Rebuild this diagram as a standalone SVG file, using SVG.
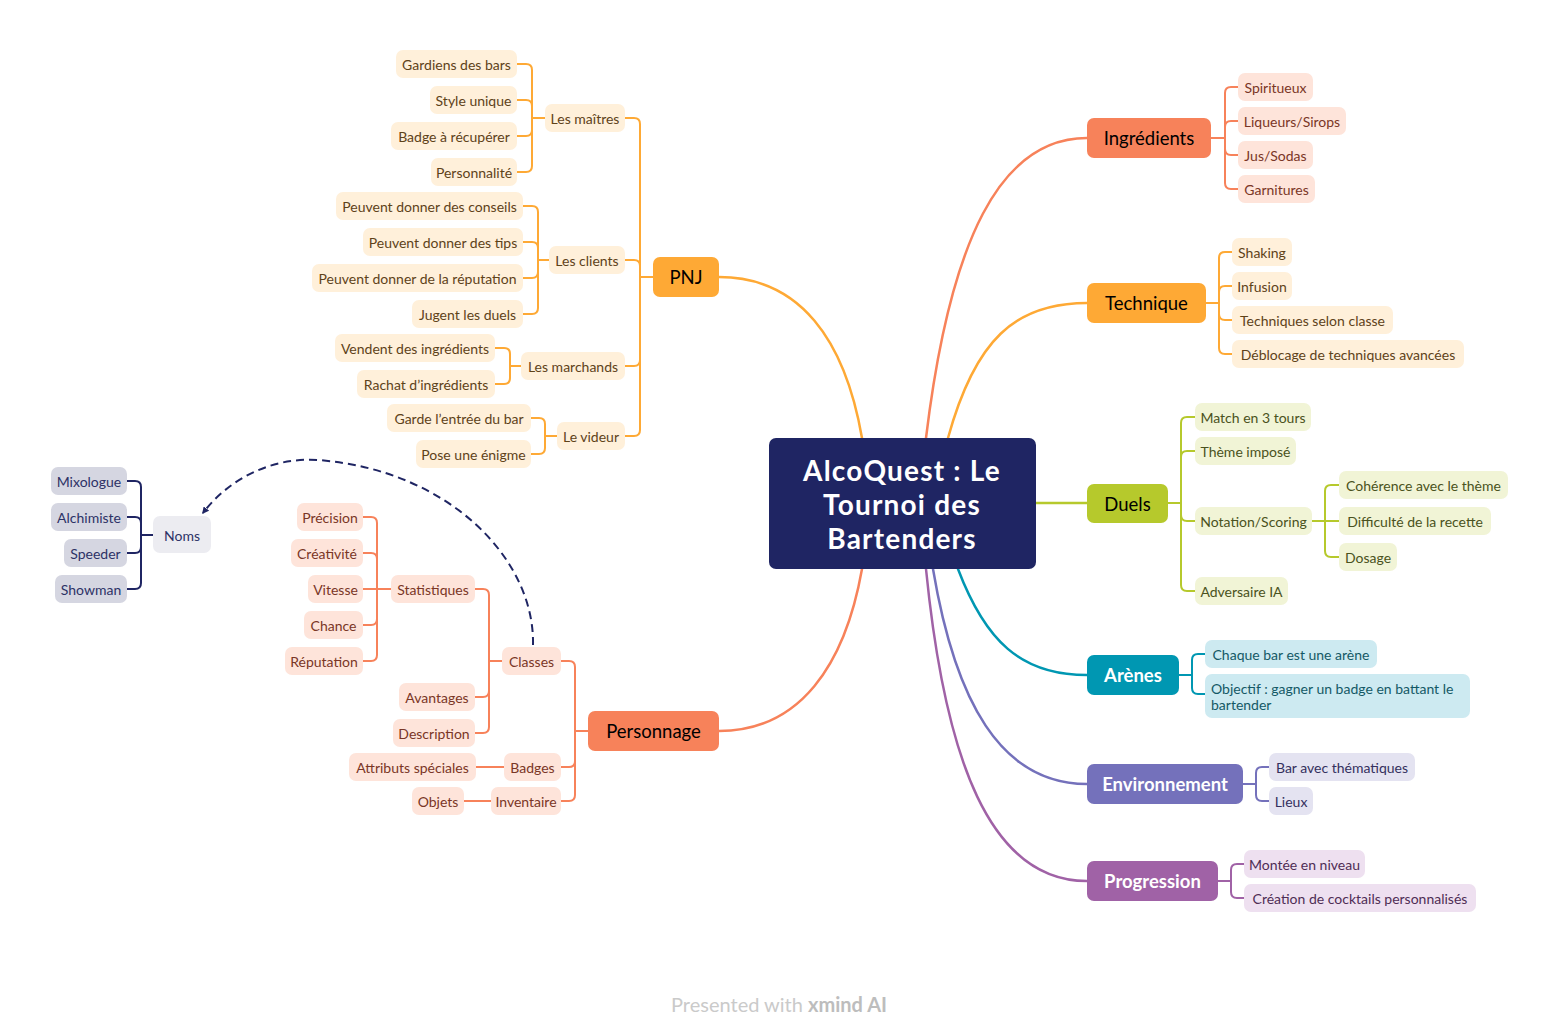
<svg xmlns="http://www.w3.org/2000/svg" width="1559" height="1032" viewBox="0 0 1559 1032">
<defs>
<style>
text{font-family:Lato,"Noto Sans","Liberation Sans",sans-serif;dominant-baseline:central;text-anchor:middle}
.s{font-size:14px}
.b{font-size:18.5px}
.bw{font-size:18.5px;font-weight:700;fill:#fff}
.cen{font-size:28px;font-weight:700;fill:#fff;letter-spacing:1.2px}
.ro rect{fill:#fff0da}.ro text{fill:#5e4219}
.rc rect{fill:#fee4da}.rc text{fill:#7a3626}
.rg rect{fill:#f1f4d6}.rg text{fill:#4a5220}
.rt rect{fill:#cdeaf1}.rt text{fill:#145966}
.rp rect{fill:#e4e3f1}.rp text{fill:#34305e}
.rm rect{fill:#eee0f0}.rm text{fill:#4e2d55}
.rn rect{fill:#d5d6e1}.rn text{fill:#2d3266}
.ln{fill:none;stroke-width:2;stroke-linecap:round}
.lm{fill:none;stroke-width:2.5;stroke-linecap:round}
.co{stroke:#fea935}.cc{stroke:#f7825a}.cg{stroke:#b6c92c}.ct{stroke:#0097b2}.cp{stroke:#7471bb}.cm{stroke:#a062a6}.cn{stroke:#1f2563}
</style>
<marker id="arr" viewBox="0 0 10 10" refX="8" refY="5" markerWidth="7" markerHeight="7" orient="auto-start-reverse" markerUnits="userSpaceOnUse">
<path d="M0,0 L10,5 L0,10 z" fill="#1f2563"/>
</marker>
</defs>
<rect width="1559" height="1032" fill="#fff"/>
<g id="connectors">
<path class="lm co" d="M862,438 C845,340 800,277 719,277"/>
<path class="lm cc" d="M862,569 C845,665 800,731 719,731"/>
<path class="lm cc" d="M926,438 C950,240 1000,138 1087,138"/>
<path class="lm co" d="M948,438 C975,340 1015,303 1087,303"/>
<path class="lm cg" d="M1036,503 H1087"/>
<path class="lm ct" d="M958,569 C985,640 1020,675 1087,675"/>
<path class="lm cp" d="M933,569 C955,700 1000,784 1087,784"/>
<path class="lm cm" d="M926,569 C945,760 990,881 1087,881"/>
<g class="ln co">
<path d="M653,277 H640 V124 Q640,118 634,118 H625"/>
<path d="M653,277 H640 V266 Q640,260 634,260 H625"/>
<path d="M653,277 H640 V360 Q640,366 634,366 H625"/>
<path d="M653,277 H640 V430 Q640,436 634,436 H625"/>
<path d="M545,118 H532 V70 Q532,64 526,64 H517"/>
<path d="M545,118 H532 V106 Q532,100 526,100 H517"/>
<path d="M545,118 H532 V130 Q532,136 526,136 H517"/>
<path d="M545,118 H532 V166 Q532,172 526,172 H517"/>
<path d="M549,260 H538 V212 Q538,206 532,206 H523"/>
<path d="M549,260 H538 V248 Q538,242 532,242 H523"/>
<path d="M549,260 H538 V272 Q538,278 532,278 H523"/>
<path d="M549,260 H538 V308 Q538,314 532,314 H523"/>
<path d="M521,366 H510 V354 Q510,348 504,348 H495"/>
<path d="M521,366 H510 V378 Q510,384 504,384 H495"/>
<path d="M557,436 H545 V424 Q545,418 539,418 H531"/>
<path d="M557,436 H545 V448 Q545,454 539,454 H531"/>
<path d="M1206,303 H1219 V258 Q1219,252 1225,252 H1232"/>
<path d="M1206,303 H1219 V292 Q1219,286 1225,286 H1232"/>
<path d="M1206,303 H1219 V314 Q1219,320 1225,320 H1232"/>
<path d="M1206,303 H1219 V348 Q1219,354 1225,354 H1232"/>
</g>
<g class="ln cc">
<path d="M588,731 H575 V667 Q575,661 569,661 H561"/>
<path d="M588,731 H575 V761 Q575,767 569,767 H561"/>
<path d="M588,731 H575 V795 Q575,801 569,801 H561"/>
<path d="M502,661 H489 V595 Q489,589 483,589 H475"/>
<path d="M502,661 H489 V691 Q489,697 483,697 H475"/>
<path d="M502,661 H489 V727 Q489,733 483,733 H475"/>
<path d="M391,589 H377 V523 Q377,517 371,517 H363"/>
<path d="M391,589 H377 V559 Q377,553 371,553 H363"/>
<path d="M391,589 H363"/>
<path d="M391,589 H377 V619 Q377,625 371,625 H363"/>
<path d="M391,589 H377 V655 Q377,661 371,661 H363"/>
<path d="M504,767 H476"/>
<path d="M491,801 H464"/>
<path d="M1211,138 H1225 V93 Q1225,87 1231,87 H1238"/>
<path d="M1211,138 H1225 V127 Q1225,121 1231,121 H1238"/>
<path d="M1211,138 H1225 V149 Q1225,155 1231,155 H1238"/>
<path d="M1211,138 H1225 V183 Q1225,189 1231,189 H1238"/>
</g>
<g class="ln cg">
<path d="M1168,503 H1181 V423 Q1181,417 1187,417 H1195"/>
<path d="M1168,503 H1181 V457 Q1181,451 1187,451 H1195"/>
<path d="M1168,503 H1181 V515 Q1181,521 1187,521 H1195"/>
<path d="M1168,503 H1181 V585 Q1181,591 1187,591 H1195"/>
<path d="M1312,521 H1325 V491 Q1325,485 1331,485 H1339"/>
<path d="M1312,521 H1339"/>
<path d="M1312,521 H1325 V551 Q1325,557 1331,557 H1339"/>
</g>
<g class="ln ct">
<path d="M1179,675 H1192 V660 Q1192,654 1198,654 H1205"/>
<path d="M1179,675 H1192 V688 Q1192,694 1198,694 H1205"/>
</g>
<g class="ln cp">
<path d="M1243,784 H1256 V773 Q1256,767 1262,767 H1269"/>
<path d="M1243,784 H1256 V795 Q1256,801 1262,801 H1269"/>
</g>
<g class="ln cm">
<path d="M1218,881 H1231 V870 Q1231,864 1237,864 H1244"/>
<path d="M1218,881 H1231 V892 Q1231,898 1237,898 H1244"/>
</g>
<g class="ln cn">
<path d="M153,535 H141 V487 Q141,481 135,481 H127"/>
<path d="M153,535 H141 V523 Q141,517 135,517 H127"/>
<path d="M153,535 H141 V547 Q141,553 135,553 H127"/>
<path d="M153,535 H141 V583 Q141,589 135,589 H127"/>
</g>
<path d="M533,645 C535,560 450,470 318,460 C270,457 228,480 203,513" fill="none" stroke="#1f2563" stroke-width="2" stroke-dasharray="8 5" marker-end="url(#arr)"/>
</g>

<g id="center"><rect x="769" y="438" width="267" height="131" rx="7" fill="#1f2563"/>
<text class="cen" x="902" y="470">AlcoQuest : Le</text>
<text class="cen" x="902" y="504">Tournoi des</text>
<text class="cen" x="902" y="538">Bartenders</text></g>

<g id="pnj"><rect x="653" y="257" width="66" height="40" rx="7" fill="#fea935"/><text class="b" x="686" y="277">PNJ</text></g>
<g id="personnage"><rect x="588" y="711" width="131" height="40" rx="7" fill="#f7825a"/><text class="b" x="653.5" y="731">Personnage</text></g>
<g id="ingredients"><rect x="1087" y="118" width="124" height="40" rx="7" fill="#f7825a"/><text class="b" x="1149" y="138">Ingrédients</text></g>
<g id="technique"><rect x="1087" y="283" width="119" height="40" rx="7" fill="#fea935"/><text class="b" x="1146.5" y="303">Technique</text></g>
<g id="duels"><rect x="1087" y="484" width="81" height="39" rx="7" fill="#b6c92c"/><text class="b" x="1127.5" y="503.5">Duels</text></g>
<g id="arenes"><rect x="1087" y="655" width="92" height="40" rx="7" fill="#0097b2"/><text class="bw" x="1133" y="675">Arènes</text></g>
<g id="environnement"><rect x="1087" y="764" width="156" height="40" rx="7" fill="#7471bb"/><text class="bw" x="1165" y="784">Environnement</text></g>
<g id="progression"><rect x="1087" y="861" width="131" height="40" rx="7" fill="#a062a6"/><text class="bw" x="1152.5" y="881">Progression</text></g>

<g class="ro s">
<g id="gardiens"><rect x="396" y="50" width="121" height="28" rx="7"/><text x="456.5" y="64">Gardiens des bars</text></g>
<g id="style"><rect x="430" y="86" width="87" height="28" rx="7"/><text x="473.5" y="100">Style unique</text></g>
<g id="badge"><rect x="391" y="122" width="126" height="28" rx="7"/><text x="454" y="136">Badge à récupérer</text></g>
<g id="personnalite"><rect x="431" y="158" width="86" height="28" rx="7"/><text x="474" y="172">Personnalité</text></g>
<g id="maitres"><rect x="545" y="104" width="80" height="28" rx="7"/><text x="585" y="118">Les maîtres</text></g>
<g id="conseils"><rect x="336" y="192" width="187" height="28" rx="7"/><text x="429.5" y="206">Peuvent donner des conseils</text></g>
<g id="tips"><rect x="363" y="228" width="160" height="28" rx="7"/><text x="443" y="242">Peuvent donner des tips</text></g>
<g id="reputation1"><rect x="312" y="264" width="211" height="28" rx="7"/><text x="417.5" y="278">Peuvent donner de la réputation</text></g>
<g id="jugent"><rect x="412" y="300" width="111" height="28" rx="7"/><text x="467.5" y="314">Jugent les duels</text></g>
<g id="clients"><rect x="549" y="246" width="76" height="28" rx="7"/><text x="587" y="260">Les clients</text></g>
<g id="vendent"><rect x="335" y="334" width="160" height="28" rx="7"/><text x="415" y="348">Vendent des ingrédients</text></g>
<g id="rachat"><rect x="357" y="370" width="138" height="28" rx="7"/><text x="426" y="384">Rachat d’ingrédients</text></g>
<g id="marchands"><rect x="521" y="352" width="104" height="28" rx="7"/><text x="573" y="366">Les marchands</text></g>
<g id="garde"><rect x="387" y="404" width="144" height="28" rx="7"/><text x="459" y="418">Garde l’entrée du bar</text></g>
<g id="enigme"><rect x="416" y="440" width="115" height="28" rx="7"/><text x="473.5" y="454">Pose une énigme</text></g>
<g id="videur"><rect x="557" y="422" width="68" height="28" rx="7"/><text x="591" y="436">Le videur</text></g>
<g id="shaking"><rect x="1232" y="238" width="60" height="28" rx="7"/><text x="1262" y="252">Shaking</text></g>
<g id="infusion"><rect x="1232" y="272" width="60" height="28" rx="7"/><text x="1262" y="286">Infusion</text></g>
<g id="selonclasse"><rect x="1232" y="306" width="161" height="28" rx="7"/><text x="1312.5" y="320">Techniques selon classe</text></g>
<g id="deblocage"><rect x="1232" y="340" width="232" height="28" rx="7"/><text x="1348" y="354">Déblocage de techniques avancées</text></g>
</g>

<g class="rc s">
<g id="precision"><rect x="297" y="503" width="66" height="28" rx="7"/><text x="330" y="517">Précision</text></g>
<g id="creativite"><rect x="291" y="539" width="72" height="28" rx="7"/><text x="327" y="553">Créativité</text></g>
<g id="vitesse"><rect x="308" y="575" width="55" height="28" rx="7"/><text x="335.5" y="589">Vitesse</text></g>
<g id="chance"><rect x="304" y="611" width="59" height="28" rx="7"/><text x="333.5" y="625">Chance</text></g>
<g id="reputation2"><rect x="285" y="647" width="78" height="28" rx="7"/><text x="324" y="661">Réputation</text></g>
<g id="statistiques"><rect x="391" y="575" width="84" height="28" rx="7"/><text x="433" y="589">Statistiques</text></g>
<g id="avantages"><rect x="399" y="683" width="76" height="28" rx="7"/><text x="437" y="697">Avantages</text></g>
<g id="description"><rect x="393" y="719" width="82" height="28" rx="7"/><text x="434" y="733">Description</text></g>
<g id="classes"><rect x="502" y="647" width="59" height="28" rx="7"/><text x="531.5" y="661">Classes</text></g>
<g id="attributs"><rect x="349" y="753" width="127" height="28" rx="7"/><text x="412.5" y="767">Attributs spéciales</text></g>
<g id="badges"><rect x="504" y="753" width="57" height="28" rx="7"/><text x="532.5" y="767">Badges</text></g>
<g id="objets"><rect x="412" y="787" width="52" height="28" rx="7"/><text x="438" y="801">Objets</text></g>
<g id="inventaire"><rect x="491" y="787" width="70" height="28" rx="7"/><text x="526" y="801">Inventaire</text></g>
<g id="spiritueux"><rect x="1238" y="73" width="75" height="28" rx="7"/><text x="1275.5" y="87">Spiritueux</text></g>
<g id="liqueurs"><rect x="1238" y="107" width="108" height="28" rx="7"/><text x="1292" y="121">Liqueurs/Sirops</text></g>
<g id="jus"><rect x="1238" y="141" width="75" height="28" rx="7"/><text x="1275.5" y="155">Jus/Sodas</text></g>
<g id="garnitures"><rect x="1238" y="175" width="77" height="28" rx="7"/><text x="1276.5" y="189">Garnitures</text></g>
</g>

<g class="rn s">
<g id="mixologue"><rect x="51" y="467" width="76" height="28" rx="7"/><text x="89" y="481">Mixologue</text></g>
<g id="alchimiste"><rect x="51" y="503" width="76" height="28" rx="7"/><text x="89" y="517">Alchimiste</text></g>
<g id="speeder"><rect x="64" y="539" width="63" height="28" rx="7"/><text x="95.5" y="553">Speeder</text></g>
<g id="showman"><rect x="55" y="575" width="72" height="28" rx="7"/><text x="91" y="589">Showman</text></g>
<g id="noms"><rect x="153" y="516" width="58" height="37" rx="7" style="fill:#ececf1"/><text x="182" y="535">Noms</text></g>
</g>

<g class="rg s">
<g id="match"><rect x="1195" y="403" width="116" height="28" rx="7"/><text x="1253" y="417">Match en 3 tours</text></g>
<g id="theme"><rect x="1195" y="437" width="101" height="28" rx="7"/><text x="1245.5" y="451">Thème imposé</text></g>
<g id="notation"><rect x="1195" y="507" width="117" height="28" rx="7"/><text x="1253.5" y="521">Notation/Scoring</text></g>
<g id="adversaire"><rect x="1195" y="577" width="93" height="28" rx="7"/><text x="1241.5" y="591">Adversaire IA</text></g>
<g id="coherence"><rect x="1339" y="471" width="169" height="28" rx="7"/><text x="1423.5" y="485">Cohérence avec le thème</text></g>
<g id="difficulte"><rect x="1339" y="507" width="152" height="28" rx="7"/><text x="1415" y="521">Difficulté de la recette</text></g>
<g id="dosage"><rect x="1339" y="543" width="58" height="28" rx="7"/><text x="1368" y="557">Dosage</text></g>
</g>

<g class="rt s">
<g id="chaque"><rect x="1205" y="640" width="172" height="28" rx="7"/><text x="1291" y="654">Chaque bar est une arène</text></g>
<g id="objectif"><rect x="1205" y="674" width="265" height="44" rx="7"/><text x="1211" y="688" style="text-anchor:start">Objectif : gagner un badge en battant le</text><text x="1211" y="704" style="text-anchor:start">bartender</text></g>
</g>

<g class="rp s">
<g id="bar"><rect x="1269" y="753" width="146" height="28" rx="7"/><text x="1342" y="767">Bar avec thématiques</text></g>
<g id="lieux"><rect x="1269" y="787" width="44" height="28" rx="7"/><text x="1291" y="801">Lieux</text></g>
</g>

<g class="rm s">
<g id="montee"><rect x="1244" y="850" width="121" height="28" rx="7"/><text x="1304.5" y="864">Montée en niveau</text></g>
<g id="creation"><rect x="1244" y="884" width="232" height="28" rx="7"/><text x="1360" y="898">Création de cocktails personnalisés</text></g>
</g>

<text x="779" y="1004" style="font-size:20px;fill:#cacaca">Presented with <tspan style="font-weight:700;fill:#bdbdbd">xmind AI</tspan></text>
</svg>
